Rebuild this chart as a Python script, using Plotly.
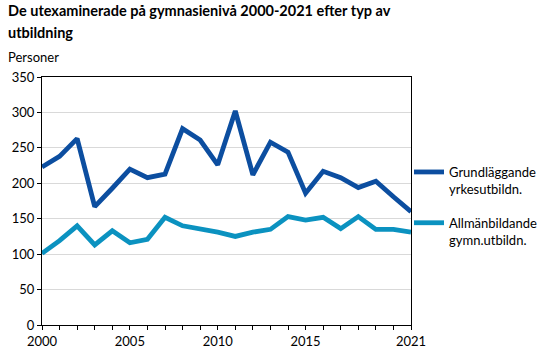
import plotly.graph_objects as go

years = list(range(2000, 2022))
grund = [223, 238, 263, 167, 193, 220, 208, 213, 277, 261, 226, 302, 212, 258, 244, 186, 217, 208, 194, 203, 181, 160]
allm = [101, 119, 140, 113, 133, 116, 121, 152, 140, 136, 131, 125, 131, 135, 153, 148, 152, 136, 153, 135, 135, 131]
names = ["Grundläggande<br>yrkesutbildn.", "Allmänbildande<br>gymn.utbildn."]
colors = ["#0C4EA0", "#0B92C0"]
title_lines = ["De utexaminerade på gymnasienivå 2000-2021 efter typ av", "utbildning"]

FONT = "Lato, Carlito, 'Liberation Sans', sans-serif"
PH = 248.0  # plot height in px
PW = 369.0

fig = go.Figure()
for i, (vals, name, col) in enumerate(zip([grund, allm], names, colors)):
    fig.add_trace(go.Scatter(x=years, y=vals, mode="lines", name=name, legendgroup=f"g{i}",
                             line=dict(color=col, width=4.8)))

anns = []
for j, t in enumerate(title_lines):
    anns.append(dict(text=f"<b>{t}</b>", xref="paper", yref="paper",
                     x=(6 - 42) / PW, y=1 + (77 - 0 - 22 * j) / PH,
                     xanchor="left", yanchor="top", align="left", showarrow=False,
                     font=dict(size=14.5, family=FONT)))
anns.append(dict(text="Personer", xref="paper", yref="paper", x=(6 - 42) / PW, y=1 + (77 - 67) / PH,
                 xanchor="left", yanchor="bottom", showarrow=False,
                 font=dict(size=13, family=FONT)))

fig.update_layout(
    width=546, height=356,
    margin=dict(l=42, r=135, t=77, b=31, autoexpand=False),
    paper_bgcolor="white", plot_bgcolor="white",
    font=dict(family=FONT, size=13, color="#000000"),
    showlegend=True,
    legend=dict(xref="container", x=409 / 546, xanchor="left",
                yref="container", y=1 - 157 / 356, yanchor="top",
                valign="top", tracegroupgap=14, itemwidth=30,
                font=dict(size=13, family=FONT), bgcolor="rgba(0,0,0,0)"),
    annotations=anns,
)
fig.update_xaxes(range=[2000, 2021], tickmode="array", tickvals=[2000, 2005, 2010, 2015, 2021],
                 ticktext=["2000", "2005", "2010", "2015", "2021"],
                 showgrid=False, showline=True, linecolor="black", linewidth=1, mirror=True,
                 ticks="outside", ticklen=4, tickcolor="black", automargin=False,
                 minor=dict(dtick=1, ticks="outside", ticklen=4, tickcolor="black"),
                 tickfont=dict(size=13), zeroline=False)
fig.update_yaxes(range=[0, 350], dtick=50, showgrid=True, gridcolor="#D9D9D9", gridwidth=1,
                 showline=True, linecolor="black", linewidth=1, mirror=True, automargin=False,
                 ticks="outside", ticklen=4, tickcolor="black", zeroline=False,
                 tickfont=dict(size=13))

fig.write_html("out.html", config={"displayModeBar": False},
               post_script="document.body.style.margin='0';")
